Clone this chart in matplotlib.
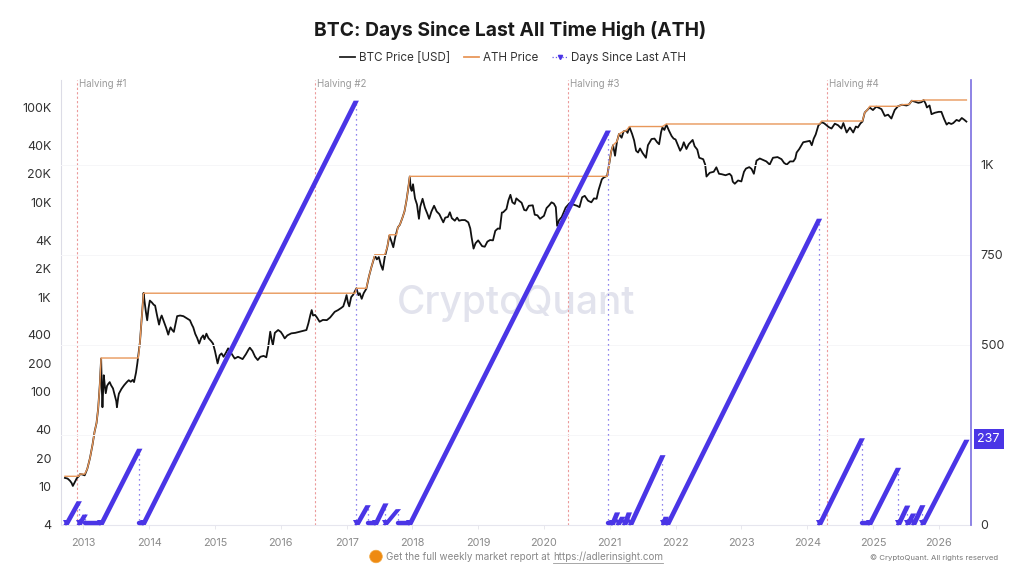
import matplotlib
matplotlib.use("Agg")
import matplotlib.pyplot as plt
import numpy as np
from matplotlib.lines import Line2D
from matplotlib.patches import Circle

plt.rcParams['font.family'] = ['Inter', 'DejaVu Sans']

# price: (decimal year, USD)
price_2012_14 = [(2012.72, 12.4), (2012.76, 12.2), (2012.795, 11.6), (2012.82, 11), (2012.84, 10.2), (2012.87, 11.2),
                 (2012.90, 12.3), (2012.93, 12.9), (2012.95, 13.6), (2012.98, 13.5), (2013.02, 13.2), (2013.06, 15.5),
                 (2013.10, 20), (2013.14, 28), (2013.17, 38), (2013.20, 47), (2013.225, 67), (2013.25, 120),
                 (2013.27, 225), (2013.28, 110), (2013.29, 69), (2013.30, 100), (2013.31, 150), (2013.325, 118),
                 (2013.34, 97), (2013.36, 116), (2013.38, 122), (2013.40, 127), (2013.42, 118), (2013.45, 109),
                 (2013.48, 90), (2013.50, 80), (2013.51, 69), (2013.53, 88), (2013.54, 96), (2013.58, 108),
                 (2013.62, 118), (2013.66, 127), (2013.69, 133), (2013.72, 128), (2013.75, 134), (2013.77, 127),
                 (2013.80, 160), (2013.82, 200), (2013.84, 260), (2013.86, 336), (2013.88, 520), (2013.90, 800),
                 (2013.915, 1110), (2013.93, 900), (2013.95, 700), (2013.97, 570), (2013.99, 760), (2014.01, 920),
                 (2014.04, 880), (2014.07, 830), (2014.09, 815), (2014.12, 640), (2014.15, 513), (2014.17, 590),
                 (2014.19, 640), (2014.22, 560), (2014.26, 470), (2014.29, 402), (2014.31, 450), (2014.325, 480),
                 (2014.35, 450), (2014.375, 430), (2014.40, 520), (2014.425, 630), (2014.47, 640), (2014.52, 630),
                 (2014.57, 600), (2014.62, 570), (2014.65, 510), (2014.67, 480), (2014.70, 410), (2014.73, 370),
                 (2014.76, 324), (2014.79, 370), (2014.82, 395), (2014.84, 360), (2014.87, 412), (2014.90, 370),
                 (2014.94, 345), (2014.97, 324)]
price_2015_17 = [(2015.00, 270), (2015.04, 200), (2015.07, 243), (2015.10, 255), (2015.13, 235), (2015.17, 262),
                 (2015.20, 288), (2015.27, 243), (2015.30, 225), (2015.35, 235), (2015.42, 222), (2015.47, 250),
                 (2015.51, 280), (2015.53, 293), (2015.57, 270), (2015.61, 235), (2015.65, 217), (2015.69, 235),
                 (2015.74, 240), (2015.78, 232), (2015.81, 300), (2015.84, 432), (2015.86, 360), (2015.88, 312),
                 (2015.91, 420), (2015.96, 450), (2016.00, 430), (2016.03, 400), (2016.06, 367), (2016.10, 395),
                 (2016.16, 415), (2016.22, 420), (2016.28, 430), (2016.34, 440), (2016.39, 450), (2016.42, 530),
                 (2016.45, 650), (2016.47, 730), (2016.49, 640), (2016.52, 650), (2016.55, 610), (2016.59, 550),
                 (2016.64, 575), (2016.70, 572), (2016.75, 610), (2016.82, 700), (2016.87, 730), (2016.92, 770),
                 (2016.95, 800), (2016.98, 930), (2017.00, 1050), (2017.02, 880), (2017.04, 800), (2017.07, 1000),
                 (2017.10, 1060), (2017.15, 1240), (2017.18, 1050), (2017.20, 1100), (2017.23, 960), (2017.26, 1100),
                 (2017.30, 1225), (2017.34, 1650), (2017.38, 2100), (2017.43, 2750), (2017.46, 2500), (2017.49, 2650),
                 (2017.52, 2200), (2017.55, 1940), (2017.58, 2630), (2017.62, 3400), (2017.65, 4450), (2017.68, 3900),
                 (2017.71, 3360), (2017.74, 4300), (2017.78, 5450), (2017.81, 5800), (2017.85, 6900), (2017.88, 8000),
                 (2017.91, 10400), (2017.94, 14500), (2017.96, 18700), (2017.975, 14000), (2017.99, 13200)]
price_2018_20 = [(2018.01, 15500), (2018.04, 11000), (2018.07, 9500), (2018.10, 6700), (2018.12, 9000), (2018.155, 10900),
                 (2018.19, 8800), (2018.23, 7500), (2018.255, 6700), (2018.29, 8000), (2018.33, 9200), (2018.37, 8000),
                 (2018.41, 7500), (2018.47, 6150), (2018.50, 6900), (2018.54, 7000), (2018.57, 7850), (2018.60, 6800),
                 (2018.645, 6400), (2018.68, 6900), (2018.71, 6400), (2018.75, 6500), (2018.80, 6500), (2018.85, 6150),
                 (2018.88, 5300), (2018.90, 4270), (2018.93, 3250), (2018.96, 3700), (2019.00, 3970), (2019.03, 3700),
                 (2019.06, 3450), (2019.10, 3400), (2019.14, 3850), (2019.18, 4000), (2019.225, 3970), (2019.26, 5000),
                 (2019.30, 5300), (2019.33, 5250), (2019.36, 7800), (2019.38, 7850), (2019.43, 8500), (2019.46, 10500),
                 (2019.49, 12000), (2019.52, 10000), (2019.555, 9600), (2019.58, 11000), (2019.62, 10400), (2019.66, 9900),
                 (2019.70, 8300), (2019.73, 8200), (2019.77, 9200), (2019.83, 9300), (2019.86, 7400), (2019.90, 7300),
                 (2019.94, 6700), (2020.00, 7200), (2020.04, 8700), (2020.08, 9300), (2020.115, 10000), (2020.15, 9700),
                 (2020.18, 8900), (2020.20, 5650), (2020.23, 6500), (2020.27, 7000), (2020.33, 8800), (2020.39, 9800),
                 (2020.44, 9500), (2020.50, 9200), (2020.54, 8900), (2020.58, 11300), (2020.62, 11700), (2020.67, 10400),
                 (2020.72, 10000), (2020.76, 11000), (2020.80, 10900), (2020.83, 13500), (2020.85, 15000), (2020.88, 17500),
                 (2020.91, 18300), (2020.96, 19000)]
price_2021_23 = [(2021.00, 27500), (2021.02, 34000), (2021.05, 40000), (2021.08, 31000), (2021.11, 44000), (2021.14, 52500),
                 (2021.18, 48000), (2021.21, 56000), (2021.25, 57000), (2021.27, 54000), (2021.30, 62000), (2021.34, 52500),
                 (2021.37, 45000), (2021.40, 35000), (2021.43, 33500), (2021.46, 37000), (2021.50, 33000), (2021.55, 29500),
                 (2021.58, 40000), (2021.635, 46500), (2021.68, 47000), (2021.72, 43000), (2021.75, 41000), (2021.78, 55000),
                 (2021.80, 61500), (2021.83, 58000), (2021.86, 66000), (2021.90, 57000), (2021.94, 50000), (2021.97, 47000),
                 (2022.00, 46000), (2022.03, 41000), (2022.07, 35000), (2022.10, 38000), (2022.125, 43000), (2022.165, 36500),
                 (2022.20, 41000), (2022.26, 45500), (2022.29, 39000), (2022.33, 36000), (2022.36, 29500), (2022.42, 28500),
                 (2022.45, 25000), (2022.47, 18700), (2022.52, 20500), (2022.58, 21000), (2022.62, 23400), (2022.66, 20000),
                 (2022.70, 19800), (2022.76, 19300), (2022.82, 20000), (2022.85, 19000), (2022.87, 16500), (2022.90, 15700),
                 (2022.95, 17000), (2023.00, 16600), (2023.04, 21000), (2023.07, 22700), (2023.12, 23500), (2023.155, 22500),
                 (2023.19, 20000), (2023.23, 27500), (2023.28, 29000), (2023.33, 28000), (2023.38, 27000), (2023.43, 25000),
                 (2023.48, 29500), (2023.55, 30000), (2023.61, 28500), (2023.65, 26000), (2023.69, 25000), (2023.74, 27000),
                 (2023.79, 27000), (2023.82, 29000), (2023.84, 33500), (2023.88, 36500), (2023.94, 43000)]
price_2024_26 = [(2024.04, 44500), (2024.07, 40000), (2024.10, 47000), (2024.13, 52000), (2024.17, 64500), (2024.22, 70000),
                 (2024.26, 68000), (2024.30, 64500), (2024.33, 62000), (2024.37, 60000), (2024.42, 67500), (2024.47, 65000),
                 (2024.52, 60000), (2024.55, 68500), (2024.60, 54500), (2024.65, 61500), (2024.70, 54500), (2024.74, 63000),
                 (2024.77, 61500), (2024.81, 68000), (2024.84, 71000), (2024.875, 88500), (2024.92, 95000), (2024.95, 100000),
                 (2025.00, 94000), (2025.05, 102000), (2025.08, 100000), (2025.13, 96000), (2025.18, 81500), (2025.23, 84000),
                 (2025.28, 76500), (2025.33, 94000), (2025.38, 103000), (2025.44, 107000), (2025.51, 105000), (2025.55, 108000),
                 (2025.59, 118000), (2025.64, 115000), (2025.69, 112000), (2025.74, 114000), (2025.77, 120000), (2025.80, 110000),
                 (2025.82, 100000), (2025.86, 105000), (2025.89, 85000), (2025.94, 88000), (2026.00, 90000), (2026.04, 90000),
                 (2026.08, 76000), (2026.12, 66000), (2026.15, 69000), (2026.19, 67000), (2026.22, 68500), (2026.27, 74000),
                 (2026.31, 72000), (2026.35, 77500), (2026.39, 74000), (2026.42, 71000)]

ath_points = [(2012.72, 12.9), (2012.93, 12.9), (2012.95, 13.6), (2013.02, 13.6), (2013.06, 15.5), (2013.10, 20), (2013.14, 28),
              (2013.17, 38), (2013.20, 47), (2013.225, 67), (2013.25, 120), (2013.27, 228), (2013.835, 228), (2013.86, 336),
              (2013.88, 520), (2013.90, 800), (2013.915, 1100), (2017.00, 1100), (2017.13, 1100), (2017.15, 1240), (2017.30, 1240),
              (2017.34, 1650), (2017.38, 2100), (2017.43, 2800), (2017.58, 2800), (2017.62, 3400), (2017.65, 4550), (2017.76, 4550),
              (2017.78, 5450), (2017.81, 5800), (2017.85, 6900), (2017.88, 8000), (2017.91, 10400), (2017.94, 14500), (2017.96, 18800),
              (2020.96, 18800), (2021.00, 27500), (2021.02, 34000), (2021.05, 40000), (2021.11, 44000), (2021.14, 52500),
              (2021.21, 56000), (2021.25, 57000), (2021.30, 63000), (2021.80, 63000), (2021.86, 67000), (2024.19, 67000),
              (2024.22, 72000), (2024.84, 72000), (2024.875, 88500), (2024.92, 95000), (2024.95, 103000), (2025.38, 103000),
              (2025.44, 107000), (2025.55, 108000), (2025.59, 118000), (2025.74, 118000), (2025.77, 120000), (2026.42, 120000)]

# runs of days since ATH: start year, end year, days reached at the end
run_start = [2012.73, 2012.93, 2013.26, 2013.90, 2017.15, 2017.43, 2017.58, 2017.95, 2021.03, 2021.12, 2021.22, 2021.31,
             2021.81, 2021.87, 2024.18, 2024.94, 2025.38, 2025.52, 2025.61, 2025.75]
run_end = [2012.93, 2013.02, 2013.85, 2017.14, 2017.32, 2017.59, 2017.78, 2020.97, 2021.11, 2021.19, 2021.29, 2021.80,
           2021.85, 2024.18, 2024.83, 2025.38, 2025.52, 2025.61, 2025.75, 2026.42]
run_peak = [66, 29, 212, 1179, 55, 60, 44, 1096, 35, 23, 35, 194,
            23, 851, 241, 159, 54, 32, 55, 237]
# stretches where new highs kept the count at zero
flat_start = [2013.02, 2013.85, 2017.32, 2017.78, 2020.97, 2021.85, 2024.83]
flat_end = [2013.26, 2013.90, 2017.43, 2017.95, 2021.03, 2021.87, 2024.94]

halving_x = [2012.91, 2016.52, 2020.36, 2024.30]
halving_labels = ['Halving #1', 'Halving #2', 'Halving #3', 'Halving #4']

year_ticks = list(range(2013, 2027))
price_ticks = [4, 10, 20, 40, 100, 200, 400, 1000, 2000, 4000, 10000, 20000, 40000, 100000]
price_tick_labels = ['4', '10', '20', '40', '100', '200', '400', '1K', '2K', '4K', '10K', '20K', '40K', '100K']
days_ticks = [0, 500, 750, 1000]
days_tick_labels = ['0', '500', '750', '1K']
days_grid = [250, 500, 750, 1000]
last_days = 237

BLUE = '#4a35e6'
ORANGE = '#e8975a'

W, H = 1024, 576
fig = plt.figure(figsize=(W / 100, H / 100), dpi=100)
ax = fig.add_axes([61 / W, 1 - 524.5 / H, 910 / W, 444.5 / H])

ax.set_yscale('log')
ax.set_ylim(4, 195000)
ax.set_xlim(2012.66, 2026.49)
ax.set_xticks(year_ticks)
ax.set_yticks(price_ticks)
ax.set_yticklabels(price_tick_labels)
ax.minorticks_off()
ax.tick_params(axis='y', length=0, pad=7, labelsize=9, labelcolor='#333333')
ax.tick_params(axis='x', length=3, width=0.6, color='#e4e4ea', pad=7, labelsize=7.8, labelcolor='#8a8a8a')

for s in ['top', 'right']:
    ax.spines[s].set_visible(False)
ax.spines['left'].set_color('#dcdce6')
ax.spines['bottom'].set_color('#e6e6ee')

ax.text(2019.58, 860, 'CryptoQuant', ha='center', va='center', fontsize=28, fontweight='medium',
        color='#e2e3ed', zorder=0)

for hx, lab in zip(halving_x, halving_labels):
    ax.plot([hx, hx], [4, 195000], color='#eb9a9a', lw=0.8, ls=(0, (2, 2)), zorder=1)
    ax.text(hx + 0.03, 177000, lab, fontsize=7, color='#9a9a9a', va='center')

price = np.array(price_2012_14 + price_2015_17 + price_2018_20 + price_2021_23 + price_2024_26)
ath = np.array(ath_points)
ax.plot(price[:, 0], price[:, 1], color='#111111', lw=1.3, zorder=3)
ax.plot(ath[:, 0], ath[:, 1], color=ORANGE, lw=1.0, zorder=4)

ax2 = ax.twinx()
ax2.set_ylim(0, 1235)
ax2.set_yticks(days_ticks)
ax2.set_yticklabels(days_tick_labels)
ax2.tick_params(axis='y', length=0, pad=7, labelsize=9, labelcolor='#333333')
for s in ['top', 'left', 'bottom']:
    ax2.spines[s].set_visible(False)
ax2.spines['right'].set_color('#7a6ee0')
ax2.spines['right'].set_linewidth(1.2)
ax2.patch.set_visible(False)

for g in days_grid:
    ax2.axhline(g, color='#f6f6f8', lw=0.7, zorder=0)

half_width = 0.04  # about 2.6 px in years, the stroke has flat tops in the original
for i, (x0, x1, peak) in enumerate(zip(run_start, run_end, run_peak)):
    if i < len(run_end) - 1:  # the last run has not reset yet
        ax2.plot([x1, x1], [0, peak], color='#6a5ce8', lw=0.9, ls=(0, (1, 3)), zorder=2)
    xs = np.array([x0, x1])
    ax2.fill_betweenx([0, peak], xs - half_width, xs + half_width, color=BLUE, lw=0, zorder=5)
    ax2.plot(x0, 4, marker='v', ms=5, color=BLUE, mew=0, clip_on=False, zorder=5)
for x0, x1 in zip(flat_start, flat_end):
    ax2.plot([x0, x1], [3, 3], color=BLUE, lw=3.2, solid_capstyle='round', clip_on=False, zorder=5)

ax2.text(2026.585, last_days, str(last_days), color='white', fontsize=9, ha='left', va='center', clip_on=False,
         bbox=dict(boxstyle='square,pad=0.3', fc=BLUE, ec='none'))

fig.text(510 / W, 1 - 30 / H, 'BTC: Days Since Last All Time High (ATH)', ha='center', va='center',
         fontsize=13.9, fontweight='bold', color='#1a1a1a')

handles = [Line2D([], [], color='#222222', lw=1.3),
           Line2D([], [], color=ORANGE, lw=1.3),
           Line2D([], [], color='#6a5ce8', lw=0.9, ls=':', marker='v', ms=3, mfc=BLUE, mec=BLUE)]
fig.legend(handles, ['BTC Price [USD]', 'ATH Price', 'Days Since Last ATH'], loc='center', ncol=3,
           bbox_to_anchor=(513 / W, 1 - 58 / H), frameon=False, fontsize=8.4, labelcolor='#333333',
           handlelength=1.27, handletextpad=0.35, columnspacing=1.2)

fig.add_artist(Circle((376, H - 556.5), 6.3, fc='#ee8a12', ec='#f3a63e', lw=0.5, transform=None))
fig.text(386 / W, 1 - 556.5 / H, 'Get the full weekly market report at', fontsize=7.1, color='#888888', va='center')
fig.text(553 / W, 1 - 556.5 / H, 'https://adlerinsight.com', fontsize=7.1, color='#888888', va='center')
fig.add_artist(Line2D([553 / W, 663 / W], [1 - 562.5 / H, 1 - 562.5 / H], color='#999999', lw=0.6))
fig.text(998 / W, 1 - 558 / H, '© CryptoQuant. All rights reserved', fontsize=5.6, color='#777777', ha='right', va='center')

fig.savefig('out.png', dpi=100)
